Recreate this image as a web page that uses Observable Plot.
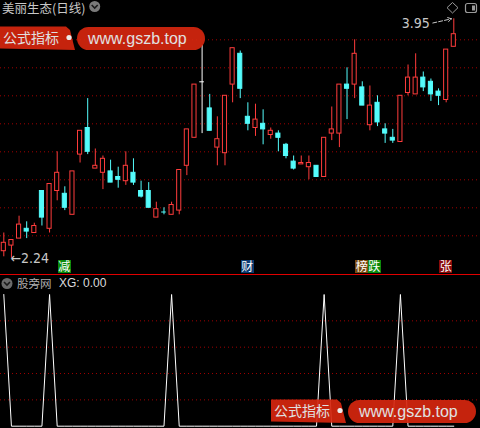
<!DOCTYPE html>
<html><head><meta charset="utf-8">
<script src="https://cdn.jsdelivr.net/npm/d3@7"></script>
<script src="https://cdn.jsdelivr.net/npm/@observablehq/plot@0.6"></script>
<style>
html,body{margin:0;padding:0;background:#000;}
#wrap{position:relative;width:480px;height:428px;overflow:hidden;background:#000;font-family:"Noto Sans CJK SC",sans-serif;}
#wrap svg{position:absolute;left:0;}
.t{position:absolute;white-space:nowrap;}
.mk{position:absolute;top:260px;width:13px;height:12.5px;line-height:12.5px;font-size:12px;color:#fff;text-align:center;}
</style></head><body><div id="wrap"></div>
<script>
// ---- data ----
const opens  = [2.29,2.33,2.38,2.45,2.42,2.72,2.45,2.72,2.70,2.55, 2.98,3.17,2.88,2.85,2.86,2.82,2.79,2.85,2.72,2.72, 2.53,2.57,2.55,2.58,2.90,3.10,3.50,3.31,3.03,2.99, 3.48,3.70,3.25,3.17,3.20,3.12,3.13,3.05,2.93,2.91, 2.89,2.90,2.82,3.13,3.13,3.48,3.48,3.46,3.19,3.35, 3.16,3.10,3.07,3.42,3.41,3.53,3.50,3.43,3.37,3.75];
const highs  = [2.42,2.37,2.54,2.50,2.49,2.72,2.77,3.00,2.75,2.86, 3.15,3.38,3.02,2.97,2.94,2.89,3.00,2.95,2.79,2.78, 2.64,2.60,2.64,2.87,3.16,3.48,3.76,3.41,3.25,3.40, 3.74,3.72,3.35,3.34,3.30,3.17,3.15,3.06,2.97,2.97, 2.97,2.90,3.10,3.32,3.48,3.60,3.80,3.50,3.47,3.40, 3.20,3.16,3.40,3.62,3.70,3.57,3.52,3.45,3.73,3.95];
const lows   = [2.25,2.24,2.38,2.38,2.42,2.47,2.42,2.65,2.58,2.55, 2.92,2.98,2.88,2.73,2.78,2.74,2.76,2.76,2.67,2.60, 2.53,2.55,2.55,2.55,2.83,3.10,3.13,3.15,2.90,2.90, 3.35,3.38,3.15,3.11,3.05,3.09,3.00,2.95,2.87,2.91, 2.80,2.82,2.82,3.08,3.03,3.23,3.38,3.33,3.15,3.18, 3.06,3.06,3.07,3.40,3.41,3.43,3.36,3.33,3.35,3.75];
const closes = [2.35,2.37,2.48,2.43,2.47,2.53,2.77,2.85,2.60,2.86, 3.15,3.00,2.90,2.95,2.78,2.80,2.90,2.78,2.68,2.60, 2.59,2.57,2.62,2.87,3.16,3.48,3.50,3.15,3.09,3.40, 3.74,3.45,3.20,3.23,3.16,3.15,3.10,2.97,2.88,2.92, 2.92,2.82,3.10,3.16,3.48,3.45,3.70,3.33,3.33,3.21, 3.13,3.08,3.40,3.53,3.53,3.46,3.41,3.40,3.73,3.84];
const xgValues = [1,0,0,0,0,0,1,0,0,0, 0,0,0,0,0,0,0,0,0,0, 0,0,1,0,0,0,0,0,0,0, 0,0,0,0,0,0,0,0,0,0, 0,0,1,0,0,0,0,0,0,0, 0,0,1,0,0,0,0,0,0,0];
const priceTicks = [2.4,2.6,2.8,3.0,3.2,3.4,3.6,3.8];
const xgTicks = [0.2,0.4,0.6,0.8];
const markerIdx = [8,32,47,47,58];
const markerTexts = ["减","财","榜","跌","张"];
const titleText = "美丽生态(日线)";
const subTitle = "股旁网";
const xgLabel = "XG: 0.00";

// ---- styles ----
const RED = "#ff3c3c", CYAN = "#54fcfc", GRID = "#a00000";
const markerColors = {"减":"#0b8a0b","财":"#0b3a70","榜":"#7a4a10","跌":"#0b8a0b","张":"#8a0b0b"};
const numFont = "'Liberation Sans Narrow','DejaVu Sans Condensed','Liberation Sans',sans-serif";

const candles = opens.map((o,i)=>{
  const c = closes[i];
  let kind = c>o ? "up" : c<o ? "down" : (i>0 && c<closes[i-1] ? "down" : "flat");
  return {i, open:o, high:highs[i], low:lows[i], close:c, kind};
});
const colorOf = d => d.kind==="up" ? RED : d.kind==="down" ? CYAN : "#ffffff";
const xg = xgValues.map((v,i)=>({i,v}));
const hiRec = candles.reduce((a,b)=>b.high>a.high?b:a);
const loRec = candles.reduce((a,b)=>b.low<a.low?b:a);

const xScale = {domain:[0,59], range:[3.3,453.3], axis:null};

const upper = Plot.plot({
  width:480, height:274, margin:0,
  x: xScale,
  y: {domain:[2.4,3.8], range:[235.3,39.3], axis:null},
  style:{background:"transparent", overflow:"visible"},
  marks:[
    Plot.ruleY(priceTicks,{stroke:GRID, strokeDasharray:"1,3"}),
    Plot.ruleX(candles,{x:"i", y1:"low", y2:"high", stroke:colorOf}),
    Plot.rect(candles.filter(d=>d.open!==d.close),{x1:d=>d.i-0.27, x2:d=>d.i+0.27, y1:"open", y2:"close",
      fill:d=>d.kind==="up"?"#000000":CYAN, stroke:colorOf}),
    Plot.ruleY(candles.filter(d=>d.open===d.close),{y:"close", x1:d=>d.i-0.3, x2:d=>d.i+0.3, stroke:colorOf}),
    Plot.text([loRec],{x:"i", y:"low", text:d=>"←"+d.low.toFixed(2), textAnchor:"start", dx:-1, fill:"#c8c8c8", fontSize:14, fontFamily:numFont}),
    Plot.text([hiRec],{x:"i", y:"high", text:d=>d.high.toFixed(2), textAnchor:"end", dx:-24, dy:5, fill:"#c8c8c8", fontSize:14, fontFamily:numFont}),
    Plot.arrow([hiRec],{x1:d=>d.i-2.75, y1:d=>d.high-0.03, x2:d=>d.i-0.3, y2:d=>d.high, stroke:"#c8c8c8", strokeWidth:1, strokeDasharray:"4,2", headLength:6, bend:0})
  ]
});
upper.style.top = "0px";

const lower = Plot.plot({
  width:480, height:154, margin:0,
  x: xScale,
  y: {domain:[0,1], range:[151.7,20], axis:null},
  style:{background:"transparent"},
  marks:[
    Plot.ruleY(xgTicks,{stroke:GRID, strokeDasharray:"1,3"}),
    Plot.line(xg,{x:"i", y:"v", stroke:"#ffffff", strokeWidth:1})
  ]
});
lower.style.top = "274px";

const wrap = document.getElementById("wrap");
wrap.appendChild(upper);
wrap.appendChild(lower);

const sx = upper.scale("x");
// separator
const sep = document.createElement("div");
sep.style.cssText = "position:absolute;left:0;top:273.5px;width:480px;height:1px;background:#e00000;";
wrap.appendChild(sep);

function addText(txt, left, top, h, size, color, family){
  const d = document.createElement("div");
  d.className = "t";
  d.textContent = txt;
  d.style.cssText += `left:${left}px;top:${top}px;height:${h}px;line-height:${h}px;font-size:${size}px;color:${color};` + (family?`font-family:${family};`:"");
  wrap.appendChild(d);
  return d;
}
addText(titleText, 2, 1, 14, 12.5, "#c8c8c8");
addText(subTitle, 17, 276, 15, 11.5, "#b0b0b0");
addText(xgLabel, 59, 276, 15, 12, "#dcdcdc", "'Liberation Sans',sans-serif");

// markers
const seen = {};
markerIdx.forEach((idx,k)=>{
  const n = seen[idx]||0; seen[idx]=n+1;
  const m = document.createElement("div");
  m.className = "mk";
  m.textContent = markerTexts[k];
  m.style.left = (sx.apply(idx) - 6.5 + n*12.5) + "px";
  m.style.background = markerColors[markerTexts[k]];
  wrap.appendChild(m);
});

// decorations overlay (icons and watermark badges)
const ns = "http://www.w3.org/2000/svg";
const ov = document.createElementNS(ns,"svg");
ov.setAttribute("width",480); ov.setAttribute("height",428);
ov.style.cssText = "position:absolute;left:0;top:0;pointer-events:none;";
function badge(ox,oy){
  return `<g transform="translate(${ox},${oy})" opacity="0.92">
   <path d="M0 26.5 L66 26.5 L70 30 L75 50 L0 48.5 Z" fill="#d6260f"/>
   <rect x="77" y="27" width="128" height="23" rx="11.5" fill="#d6260f"/>
   <circle cx="69" cy="37.5" r="2.6" fill="#ffffff"/>
   <text x="3" y="43" font-size="14" fill="#f4f4f4" font-family="Noto Sans CJK SC">公式指标</text>
   <text x="88" y="44" font-size="16" fill="#f4f4f4" font-family="Liberation Sans, Arial, sans-serif">www.gszb.top</text>
  </g>`;
}
ov.innerHTML = `
 <g><circle cx="94.7" cy="6.5" r="5.5" fill="#7a7a7a"/><path d="M91.7 5 L94.7 8 L97.7 5" fill="none" stroke="#1a1a1a" stroke-width="1.6"/></g>
 <g><circle cx="7" cy="283.5" r="5.5" fill="#6a6a6a"/><path d="M4 282 L7 285 L10 282" fill="none" stroke="#1a1a1a" stroke-width="1.6"/></g>
 <path d="M452.5 2.5 L458 7.7 L452.5 13 L447 7.7 Z" fill="none" stroke="#9a9a9a" stroke-width="1"/>
 <rect x="465.5" y="3.5" width="11" height="9" rx="2" fill="none" stroke="#9a9a9a" stroke-width="1.2"/>
 <rect x="472" y="5.5" width="3" height="5" fill="#9a9a9a"/>
 ${badge(0,0)}
 ${badge(271,373)}
`;
wrap.appendChild(ov);
</script></body></html>
